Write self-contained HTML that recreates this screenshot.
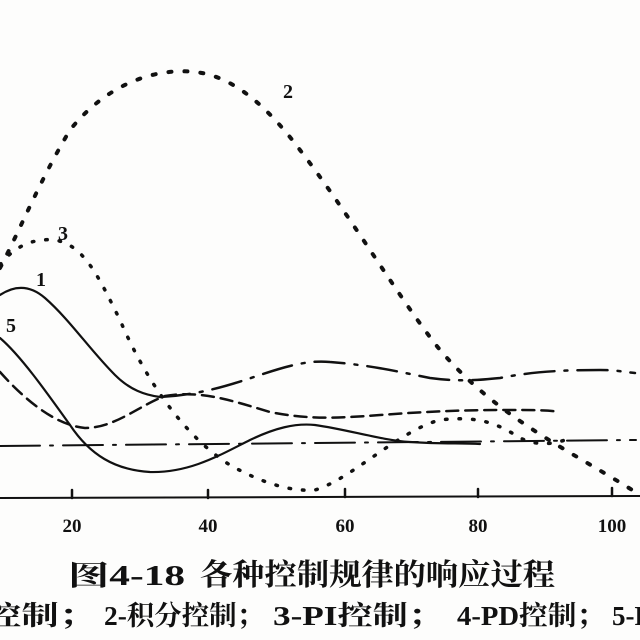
<!DOCTYPE html>
<html><head><meta charset="utf-8"><style>
html,body{margin:0;padding:0;background:#fdfdfc;}
svg{display:block}
text{font-family:"Liberation Serif","Noto Serif CJK SC",serif;fill:#111}
</style></head><body>
<svg width="640" height="640" viewBox="0 0 640 640">
<rect width="640" height="640" fill="#fdfdfc"/>
<g fill="none" stroke="#111" stroke-linecap="round">
<line x1="0" y1="498" x2="640" y2="496" stroke-width="2"/>
<g stroke-width="2.5"><line x1="72" y1="498" x2="72" y2="490"/><line x1="208" y1="498" x2="208" y2="490"/><line x1="345" y1="497" x2="345" y2="489"/><line x1="478" y1="497" x2="478" y2="489"/><line x1="612" y1="496" x2="612" y2="488"/></g>
<path d="M0 446 L636 440" stroke-width="2" stroke-dasharray="40 10 3 10"/>
<path d="M0 268 C20 230 40 180 70 130 C110 80 160 68 195 72 C235 76 270 110 300 150 C350 215 400 300 440 350 C500 420 570 450 640 495" stroke-width="4" stroke-dasharray="3 13"/>
<path d="M0 265 C15 245 35 238 55 240 C85 245 100 280 120 320 C150 390 190 440 230 465 C260 482 290 492 315 490 C350 480 400 430 440 420 C480 415 500 425 520 438 C535 445 550 445 565 440" stroke-width="3.5" stroke-dasharray="1.5 12"/>
<path d="M0 295 C15 285 30 285 45 298 C70 320 90 350 115 375 C130 390 145 395 160 397" stroke-width="2.2"/>
<path d="M160 397 C200 395 230 385 260 375 C290 365 310 360 330 362 C370 365 400 372 430 378 C460 382 480 380 500 378 C530 372 560 370 600 370 C615 370 625 372 635 373" stroke-width="2.5" stroke-dasharray="30 10 3 10"/>
<path d="M0 372 C25 400 55 425 85 428 C115 428 140 405 165 396 C200 390 230 400 270 412 C310 420 340 418 380 415 C420 412 460 410 500 410 C530 410 550 410 560 412" stroke-width="2.5" stroke-dasharray="12 7"/>
<path d="M0 338 C20 355 45 390 70 425 C90 455 115 470 150 472 C190 473 220 455 250 440 C275 428 295 423 315 425 C350 430 380 440 410 442 C440 444 460 443 480 444" stroke-width="2.2"/>
</g>
<g font-weight="bold" font-size="20">
<text x="283" y="98">2</text>
<text x="58" y="240">3</text>
<text x="36" y="286">1</text>
<text x="6" y="332">5</text>
</g>
<g font-weight="bold" font-size="19" text-anchor="middle">
<text x="72" y="532">20</text><text x="208" y="532">40</text><text x="345" y="532">60</text><text x="478" y="532">80</text><text x="612" y="532">100</text>
</g>
<g font-weight="bold">
<text x="68" y="585" font-size="28" textLength="117" lengthAdjust="spacingAndGlyphs">图4-18</text>
<text x="200" y="585" font-size="30" textLength="355" lengthAdjust="spacingAndGlyphs">各种控制规律的响应过程</text>
<text x="-16" y="625" font-size="27" textLength="112" lengthAdjust="spacingAndGlyphs">控制；</text>
<text x="104" y="625" font-size="27" textLength="160" lengthAdjust="spacingAndGlyphs">2-积分控制；</text>
<text x="273" y="625" font-size="27" textLength="170" lengthAdjust="spacingAndGlyphs">3-PI控制；</text>
<text x="457" y="625" font-size="27" textLength="148" lengthAdjust="spacingAndGlyphs">4-PD控制；</text>
<text x="612" y="625" font-size="27">5-PID</text>
</g>
</svg>
</body></html>
